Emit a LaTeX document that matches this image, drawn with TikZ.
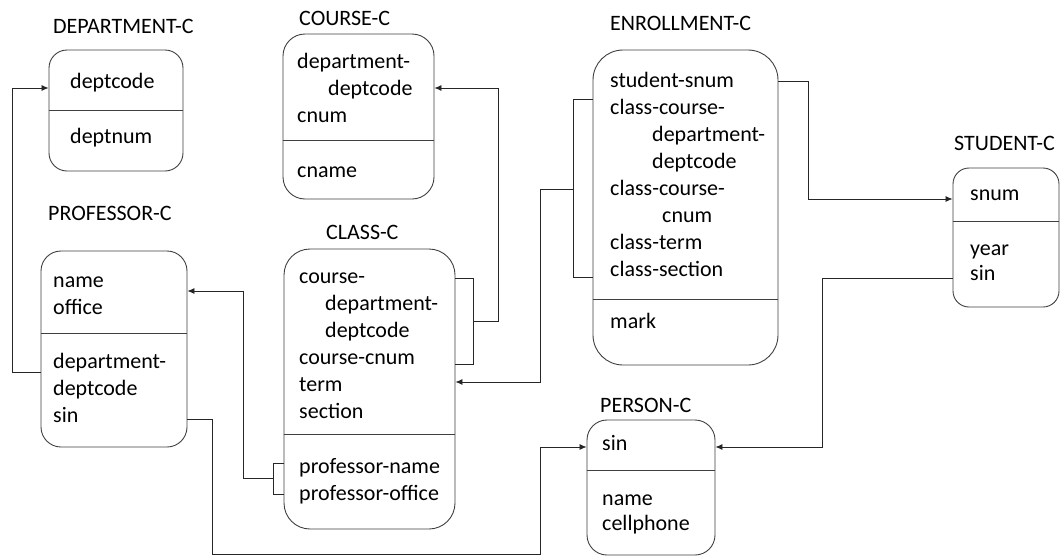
\documentclass[tikz,border=0pt]{standalone}
\usepackage{fontspec}
\setmainfont{Carlito}
\usetikzlibrary{arrows.meta}
\definecolor{boxline}{RGB}{64,64,64}
\tikzstyle{entity} = [rectangle, draw=boxline, line width=0.9pt, inner sep=0pt]
\tikzstyle{attr} = [anchor=base west, inner sep=0pt, font=\fontsize{22}{27}\selectfont]
\tikzstyle{title} = [attr]
\tikzstyle{divider} = [draw=boxline, line width=0.9pt]
\tikzstyle{link} = [draw=black!85, line width=0.8pt]
\tikzset{>={Latex[length=7pt,width=6pt]}}

\begin{document}
\begin{tikzpicture}[x=1pt, y=-1pt]
  \path[use as bounding box, fill=white] (0,0) rectangle (1060,557);

  % boxes
  \node[entity, rounded corners=18pt, minimum width=134pt, minimum height=121pt] (dept) at (116,110.5) {};
  \node[entity, rounded corners=22pt, minimum width=151pt, minimum height=165pt] (course) at (358.5,116.5) {};
  \node[entity, rounded corners=26pt, minimum width=171pt, minimum height=280pt] (class) at (369.5,389) {};
  \node[entity, rounded corners=20pt, minimum width=146pt, minimum height=196pt] (prof) at (114,349) {};
  \node[entity, rounded corners=30pt, minimum width=185pt, minimum height=315pt] (enrol) at (685.5,207.5) {};
  \node[entity, rounded corners=16pt, minimum width=106pt, minimum height=139pt] (stud) at (1006,237.5) {};
  \node[entity, rounded corners=20pt, minimum width=128pt, minimum height=135pt] (person) at (651,487.5) {};

  \draw[divider] (dept.west |- 0,110) -- (dept.east |- 0,110);
  \draw[divider] (course.west |- 0,140) -- (course.east |- 0,140);
  \draw[divider] (class.west |- 0,434) -- (class.east |- 0,434);
  \draw[divider] (prof.west |- 0,333) -- (prof.east |- 0,333);
  \draw[divider] (enrol.west |- 0,299) -- (enrol.east |- 0,299);
  \draw[divider] (stud.west |- 0,221) -- (stud.east |- 0,221);
  \draw[divider] (person.west |- 0,470) -- (person.east |- 0,470);

  % titles
  \node[title] (tdept) at (53,33) {DEPARTMENT-C};
  \node[title] (tcourse) at (299,25) {COURSE-C};
  \node[title] (tprof) at (48,220) {PROFESSOR-C};
  \node[title] (tclass) at (326,239) {CLASS-C};
  \node[title] (tenrol) at (610,30) {ENROLLMENT-C};
  \node[title] (tstud) at (954,150) {STUDENT-C};
  \node[title] (tperson) at (600,412) {PERSON-C};

  % attributes
  \node[attr] (dcode) at (70,88) {deptcode};
  \node[attr] (dnum) at (70,143) {deptnum};

  \node[attr] (cdept) at (297,68) {department-};
  \node[attr] (ccode) at (328,95) {deptcode};
  \node[attr] (cnum) at (297,122) {cnum};
  \node[attr] (cname) at (297,177) {cname};

  \node[attr] (kcourse) at (299,283) {course-};
  \node[attr] (kdept) at (325,310) {department-};
  \node[attr] (kcode) at (325,337) {deptcode};
  \node[attr] (knum) at (299,364) {course-cnum};
  \node[attr] (kterm) at (299,391) {term};
  \node[attr] (ksect) at (299,418) {section};
  \node[attr] (kpname) at (299,473) {professor-name};
  \node[attr] (kpoff) at (299,500) {professor-office};

  \node[attr] (pname) at (53,287) {name};
  \node[attr] (poff) at (53,314) {office};
  \node[attr] (pdept) at (53,368) {department-};
  \node[attr] (pcode) at (53,395) {deptcode};
  \node[attr] (psin) at (53,422) {sin};

  \node[attr] (esnum) at (610,87) {student-snum};
  \node[attr] (ecc1) at (610,114) {class-course-};
  \node[attr] (edept) at (652,141) {department-};
  \node[attr] (ecode) at (652,168) {deptcode};
  \node[attr] (ecc2) at (610,195) {class-course-};
  \node[attr] (ecnum) at (662,222) {cnum};
  \node[attr] (eterm) at (610,249) {class-term};
  \node[attr] (esect) at (610,276) {class-section};
  \node[attr] (emark) at (610,328) {mark};

  \node[attr] (ssnum) at (970,200) {snum};
  \node[attr] (syear) at (970,255) {year};
  \node[attr] (ssin) at (970,280) {sin};

  \node[attr] (rsin) at (602,450) {sin};
  \node[attr] (rname) at (602,505) {name};
  \node[attr] (rcell) at (602,530) {cellphone};

  % foreign keys
  \draw[link, ->] (prof.west |- 0,372) -- (12,372) |- (dept.west |- 0,88);

  \draw[link] (class.east |- 0,278) -- (473,278) -- (473,364) -- (class.east |- 0,364);
  \draw[link, ->] (473,321) -- (498,321) |- (course.east |- 0,88);

  \draw[link] (class.west |- 0,463) -- (273,463) -- (273,494) -- (class.west |- 0,494);
  \draw[link, ->] (273,478) -- (243,478) |- (prof.east |- 0,291);

  \draw[link] (enrol.west |- 0,99) -- (573,99) -- (573,277) -- (enrol.west |- 0,277);
  \draw[link, ->] (573,189) -- (540,189) |- (class.east |- 0,382);

  \draw[link, ->] (enrol.east |- 0,81) -- (808,81) |- (stud.west |- 0,199);

  \draw[link, ->] (stud.west |- 0,278) -- (822,278) |- (person.east |- 0,447);

  \draw[link, ->] (prof.east |- 0,419) -- (212,419) -- (212,554) -- (540,554) |- (person.west |- 0,447);
\end{tikzpicture}
\end{document}
